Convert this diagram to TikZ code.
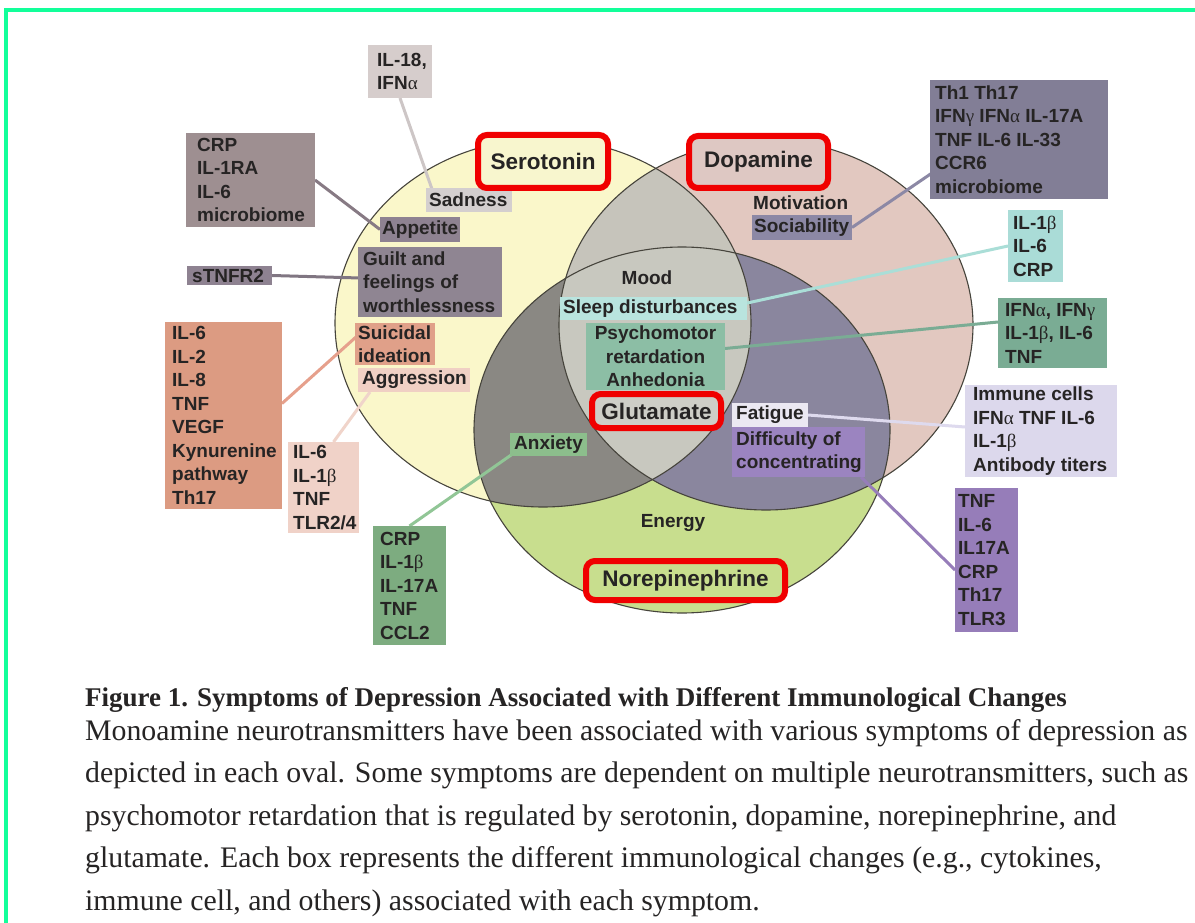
\documentclass[tikz,border=0pt]{standalone}
\usepackage{fontspec}
\setmainfont{Liberation Serif}
\newfontfamily\lsans{Liberation Sans}
\newfontfamily\grkf{Liberation Serif}
\usetikzlibrary{calc}
\pgfdeclarelayer{bg}
\pgfdeclarelayer{mid}
\pgfsetlayers{bg,mid,main}

\newcommand\GrA{{\grkf\mdseries α}}
\newcommand\GrB{{\grkf\mdseries β}}
\newcommand\GrG{{\grkf\mdseries γ}}
\newcommand\ellS{(543,323) ellipse [x radius=208pt, y radius=184pt]}
\newcommand\ellD{(766,325) ellipse [x radius=207pt, y radius=185pt]}
\newcommand\ellN{(682,430) ellipse [x radius=208pt, y radius=183pt]}

\definecolor{cS}{RGB}{250,247,202}
\definecolor{cD}{RGB}{226,200,192}
\definecolor{cN}{RGB}{200,222,142}
\definecolor{cSD}{RGB}{198,196,187}
\definecolor{cSN}{RGB}{138,136,131}
\definecolor{cDN}{RGB}{138,134,158}
\definecolor{cSDN}{RGB}{200,200,191}
\definecolor{outl}{RGB}{70,68,60}
\definecolor{grn}{RGB}{18,255,154}
\definecolor{txtc}{RGB}{38,36,36}
\definecolor{redb}{RGB}{240,0,0}

\definecolor{cIl18}{RGB}{214,205,204}
\definecolor{cSad}{RGB}{212,207,207}
\definecolor{cCrp}{RGB}{158,143,145}
\definecolor{cApp}{RGB}{142,130,145}
\definecolor{cGuilt}{RGB}{143,133,146}
\definecolor{cSui}{RGB}{224,160,137}
\definecolor{cAgg}{RGB}{240,208,196}
\definecolor{cSalm}{RGB}{220,155,130}
\definecolor{cPeach}{RGB}{240,210,200}
\definecolor{cGbox}{RGB}{125,172,128}
\definecolor{cAnx}{RGB}{140,190,140}
\definecolor{cSoc}{RGB}{140,136,165}
\definecolor{cTh1}{RGB}{130,126,150}
\definecolor{cTeal}{RGB}{170,220,215}
\definecolor{cSleep}{RGB}{185,228,222}
\definecolor{cPsy}{RGB}{140,190,165}
\definecolor{cIfn}{RGB}{122,172,148}
\definecolor{cFat}{RGB}{235,232,242}
\definecolor{cDiff}{RGB}{155,132,192}
\definecolor{cImm}{RGB}{220,216,236}
\definecolor{cTnf}{RGB}{150,125,185}

\definecolor{cL1}{RGB}{205,198,198}
\definecolor{cL2}{RGB}{135,122,132}
\definecolor{cL3}{RGB}{128,118,130}
\definecolor{cL4}{RGB}{230,160,140}
\definecolor{cL5}{RGB}{240,212,202}
\definecolor{cL6}{RGB}{145,198,150}
\definecolor{cL7}{RGB}{140,136,165}
\definecolor{cL8}{RGB}{170,222,215}
\definecolor{cL9}{RGB}{122,172,148}
\definecolor{cL10}{RGB}{222,218,238}
\definecolor{cL11}{RGB}{150,125,185}

\definecolor{fSer}{RGB}{248,246,206}
\definecolor{fDop}{RGB}{222,200,195}
\definecolor{fGlu}{RGB}{206,206,199}
\definecolor{fNor}{RGB}{200,222,142}

\begin{document}
\begin{tikzpicture}[x=1pt,y=-1pt,
  lbl/.style={font=\lsans\bfseries\fontsize{19}{23.5}\selectfont, text=txtc, inner sep=0pt, align=left, anchor=west},
  clbl/.style={lbl, align=center, anchor=center},
  bx/.style={anchor=north west, inner sep=0pt, outer sep=0pt, draw=none},
  conn/.style={line width=3pt},
  rbox/.style={draw=redb, line width=6pt, rounded corners=9pt, anchor=north west, inner sep=0pt,
     font=\lsans\bfseries\fontsize{22.5}{26}\selectfont, text=txtc},
  circ/.style={draw=outl, line width=1.1pt},
  captext/.style={anchor=base west, inner sep=0pt, text=txtc}
]
\useasboundingbox (0,0) rectangle (1195,923);

% ---- background and Venn ellipses ----
\begin{pgfonlayer}{bg}
\fill[white] (0,0) rectangle (1195,923);
\draw[grn, line width=4pt] (1195,10) -- (6,10) -- (6,923);
\fill[cS] \ellS;
\fill[cD] \ellD;
\fill[cN] \ellN;
\begin{scope}\clip \ellS; \fill[cSD] \ellD; \end{scope}
\begin{scope}\clip \ellS; \fill[cSN] \ellN; \end{scope}
\begin{scope}\clip \ellD; \fill[cDN] \ellN; \end{scope}
\begin{scope}\clip \ellS; \clip \ellD; \fill[cSDN] \ellN; \end{scope}
\draw[circ] \ellS;
\draw[circ] \ellD;
\draw[circ] \ellN;
\end{pgfonlayer}

% ---- boxes ----
\node[bx, fill=cIl18, minimum width=64pt, minimum height=53pt] (il18) at (368,45) {};
\node[lbl] at ([xshift=9pt]il18.west) {IL-18,\\IFN\GrA};

\node[bx, fill=cSad, minimum width=86pt, minimum height=24pt] (sad) at (426,188) {};
\node[lbl] at ([xshift=3pt]sad.west) {Sadness};

\node[bx, fill=cCrp, minimum width=129pt, minimum height=94pt] (crp) at (186,133) {};
\node[lbl] at ([xshift=11pt]crp.west) {CRP\\IL-1RA\\IL-6\\microbiome};

\node[bx, fill=cApp, minimum width=80pt, minimum height=25pt] (app) at (380,217) {};
\node[lbl] at ([xshift=2pt]app.west) {Appetite};

\node[bx, fill=cApp, minimum width=85pt, minimum height=19pt] (stn) at (187,266) {};
\node[lbl] at ([xshift=5pt]stn.west) {sTNFR2};

\node[bx, fill=cGuilt, minimum width=144pt, minimum height=70pt] (guilt) at (358,247) {};
\node[lbl] at ([xshift=5pt]guilt.west) {Guilt and\\feelings of\\worthlessness};

\node[bx, fill=cSui, minimum width=80pt, minimum height=42pt] (sui) at (355,323) {};
\node[lbl] at ([xshift=3pt]sui.west) {Suicidal\\ideation};

\node[bx, fill=cAgg, minimum width=112pt, minimum height=24pt] (agg) at (358,368) {};
\node[lbl] at ([xshift=4pt]agg.west) {Aggression};

\node[bx, fill=cSalm, minimum width=117pt, minimum height=187pt] (salm) at (165,322) {};
\node[lbl] at ([xshift=7pt]salm.west) {IL-6\\IL-2\\IL-8\\TNF\\VEGF\\Kynurenine\\pathway\\Th17};

\node[bx, fill=cPeach, minimum width=71pt, minimum height=91pt] (peach) at (288,442) {};
\node[lbl] at ([xshift=5pt]peach.west) {IL-6\\IL-1\GrB\\TNF\\TLR2/4};

\node[bx, fill=cGbox, minimum width=73pt, minimum height=119pt] (gbox) at (373,526) {};
\node[lbl] at ([xshift=7pt]gbox.west) {CRP\\IL-1\GrB\\IL-17A\\TNF\\CCL2};

\node[bx, fill=cAnx, minimum width=77pt, minimum height=23pt] (anx) at (510,433) {};
\node[lbl] at ([xshift=4pt]anx.west) {Anxiety};

\node[lbl] (motiv) at (753,203) {Motivation};
\node[bx, fill=cSoc, minimum width=100pt, minimum height=25pt] (soc) at (752,215) {};
\node[lbl] at ([xshift=2pt]soc.west) {Sociability};

\node[bx, fill=cTh1, minimum width=178pt, minimum height=119pt] (th1) at (930,80) {};
\node[lbl] at ([xshift=5pt]th1.west) {Th1 Th17\\IFN\GrG{} IFN\GrA{} IL-17A\\TNF IL-6 IL-33\\CCR6\\microbiome};

\node[bx, fill=cTeal, minimum width=55pt, minimum height=72pt] (teal) at (1008,210) {};
\node[lbl] at ([xshift=5pt]teal.west) {IL-1\GrB\\IL-6\\CRP};

\node[clbl] (mood) at (647,278) {Mood};

\node[bx, fill=cSleep, minimum width=187pt, minimum height=23pt] (sleep) at (560,297) {};
\node[lbl] at ([xshift=3pt]sleep.west) {Sleep disturbances};

\node[bx, fill=cPsy, minimum width=139pt, minimum height=67pt] (psy) at (586,323) {};
\node[clbl] at (psy.center) {Psychomotor\\retardation\\Anhedonia};

\node[bx, fill=cIfn, minimum width=109pt, minimum height=70pt] (ifn) at (998,298) {};
\node[lbl] at ([xshift=7pt]ifn.west) {IFN\GrA, IFN\GrG\\IL-1\GrB, IL-6\\TNF};

\node[bx, fill=cFat, minimum width=76pt, minimum height=24pt] (fat) at (732,403) {};
\node[lbl] at ([xshift=4pt]fat.west) {Fatigue};

\node[bx, fill=cDiff, minimum width=133pt, minimum height=50pt] (diff) at (732,427) {};
\node[lbl] at ([xshift=4pt]diff.west) {Difficulty of\\concentrating};

\node[bx, fill=cImm, minimum width=152pt, minimum height=92pt] (imm) at (965,385) {};
\node[lbl] at ([xshift=8pt]imm.west) {Immune cells\\IFN\GrA{} TNF IL-6\\IL-1\GrB\\Antibody titers};

\node[bx, fill=cTnf, minimum width=63pt, minimum height=144pt] (tnf) at (955,488) {};
\node[lbl] at ([xshift=3pt]tnf.west) {TNF\\IL-6\\IL17A\\CRP\\Th17\\TLR3};

\node[clbl] (energy) at (673,523) {Energy};

% ---- red neurotransmitter boxes ----
\node[rbox, fill=fSer, minimum width=130pt, minimum height=53pt] (ser) at (475,132) {Serotonin};
\node[rbox, fill=fDop, minimum width=139pt, minimum height=52pt] (dop) at (686,133) {Dopamine};
\node[rbox, fill=fGlu, minimum width=129pt, minimum height=34pt] (glu) at (589,391) {Glutamate};
\node[rbox, fill=fNor, minimum width=199pt, minimum height=39pt] (nor) at (583,558) {Norepinephrine};

% ---- connectors ----
\begin{pgfonlayer}{mid}
\draw[conn, cL1] (il18.south) -- ($(sad.north west)+(7,4)$);
\draw[conn, cL2] (crp.east) -- (app.west);
\draw[conn, cL3] (stn.east) -- ($(guilt.west)+(2,-4)$);
\draw[conn, cL4] ($(salm.east)+(0,-12)$) -- ($(sui.west)+(1,-7)$);
\draw[conn, cL5] ($(peach.north)+(10,0)$) -- ($(agg.south west)+(12,0)$);
\draw[conn, cL6] (gbox.north) -- ($(anx.south west)+(4,-3)$);
\draw[conn, cL7] (soc.east) -- ($(th1.south west)+(2,-26)$);
\draw[conn, cL8] (teal.west) -- ($(sleep.east)+(-2,-5)$);
\draw[conn, cL9] ($(ifn.west)+(0,-11)$) -- ($(psy.east)+(0,-8)$);
\draw[conn, cL10] ($(imm.west)+(0,-4)$) -- (fat.east);
\draw[conn, cL11] ($(tnf.west)+(0,10)$) -- ($(diff.south east)+(-4,0)$);
\end{pgfonlayer}

% ---- caption ----
\node[captext, font=\bfseries\fontsize{27}{30}\selectfont] (title) at (85,706) {Figure 1. Symptoms of Depression Associated with Different Immunological Changes};
\node[captext, font=\fontsize{29.8}{35}\selectfont] (c1) at (85,740) {Monoamine neurotransmitters have been associated with various symptoms of depression as};
\node[captext, font=\fontsize{29.8}{35}\selectfont] (c2) at (85,782.5) {depicted in each oval. Some symptoms are dependent on multiple neurotransmitters, such as};
\node[captext, font=\fontsize{29.8}{35}\selectfont] (c3) at (85,825) {psychomotor retardation that is regulated by serotonin, dopamine, norepinephrine, and};
\node[captext, font=\fontsize{29.8}{35}\selectfont] (c4) at (85,867.5) {glutamate. Each box represents the different immunological changes (e.g., cytokines,};
\node[captext, font=\fontsize{29.8}{35}\selectfont] (c5) at (85,910) {immune cell, and others) associated with each symptom.};
\end{tikzpicture}
\end{document}
